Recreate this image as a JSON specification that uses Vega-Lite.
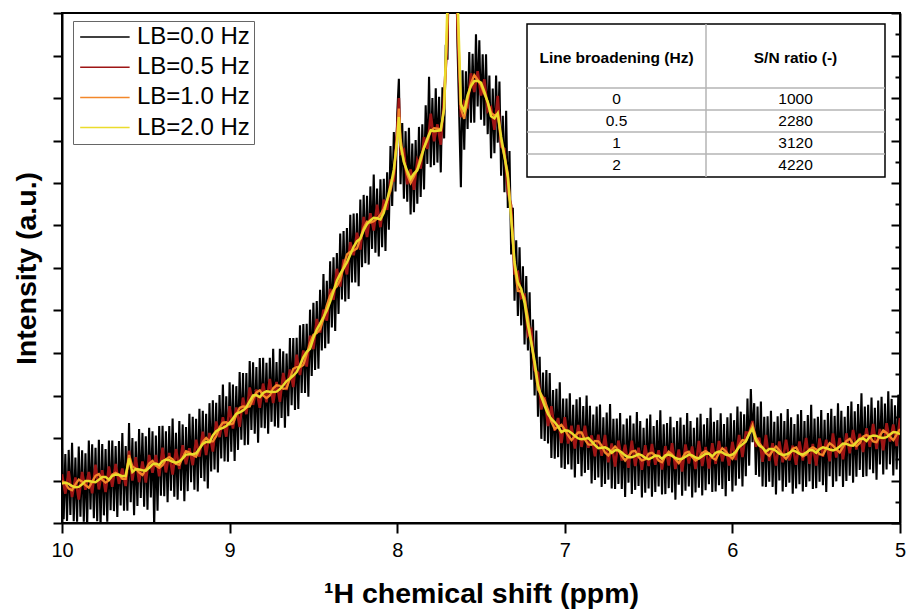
{
"$schema": "https://vega.github.io/schema/vega-lite/v6.json",
"width": 838, "height": 510,
"autosize": {"type": "none"},
"padding": {"left": 62, "top": 13, "right": 7, "bottom": 86},
"config": {"font": "Liberation Sans", "view": {"stroke": "black", "strokeWidth": 2},
  "axis": {"titleColor": "black", "labelColor": "black", "tickColor": "black", "domainColor": "black", "grid": false}},
"datasets": {
"blk": [
{"x":10,"k":1.76},{"x":9.99,"k":0.09},{"x":9.98,"k":1.62},{"x":9.97,"k":0.05},{"x":9.96,"k":1.72},{"x":9.95,"k":0.19},{"x":9.94,"k":1.89},{"x":9.93,"k":0.04},{"x":9.92,"k":1.54},{"x":9.91,"k":0.03},
{"x":9.9,"k":1.8},{"x":9.89,"k":0.15},{"x":9.88,"k":1.71},{"x":9.87,"k":0.03},{"x":9.86,"k":1.64},{"x":9.85,"k":-0.1},{"x":9.84,"k":1.94},{"x":9.83,"k":0.32},{"x":9.82,"k":1.85},{"x":9.81,"k":0.11},
{"x":9.8,"k":1.77},{"x":9.79,"k":0.04},{"x":9.78,"k":1.96},{"x":9.77,"k":-0.1},{"x":9.76,"k":1.86},{"x":9.75,"k":0.18},{"x":9.74,"k":1.74},{"x":9.73,"k":0.03},{"x":9.72,"k":1.94},{"x":9.71,"k":0.3},
{"x":9.7,"k":1.94},{"x":9.69,"k":0.28},{"x":9.68,"k":1.81},{"x":9.67,"k":0.14},{"x":9.66,"k":1.93},{"x":9.65,"k":0.41},{"x":9.64,"k":2.12},{"x":9.63,"k":0.29},{"x":9.62,"k":1.81},{"x":9.61,"k":0.29},
{"x":9.6,"k":2.35},{"x":9.59,"k":0.49},{"x":9.58,"k":2.0},{"x":9.57,"k":0.18},{"x":9.56,"k":1.92},{"x":9.55,"k":0.4},{"x":9.54,"k":2.21},{"x":9.53,"k":0.59},{"x":9.52,"k":2.12},{"x":9.51,"k":0.38},
{"x":9.5,"k":2.04},{"x":9.49,"k":0.31},{"x":9.48,"k":2.24},{"x":9.47,"k":0.6},{"x":9.46,"k":2.16},{"x":9.45,"k":-0.1},{"x":9.44,"k":2.06},{"x":9.43,"k":0.29},{"x":9.42,"k":2.28},{"x":9.41,"k":0.64},
{"x":9.4,"k":2.29},{"x":9.39,"k":0.63},{"x":9.38,"k":2.16},{"x":9.37,"k":0.49},{"x":9.36,"k":2.28},{"x":9.35,"k":0.76},{"x":9.34,"k":2.46},{"x":9.33,"k":0.62},{"x":9.32,"k":2.12},{"x":9.31,"k":0.55},
{"x":9.3,"k":2.4},{"x":9.29,"k":0.76},{"x":9.28,"k":2.32},{"x":9.27,"k":0.51},{"x":9.26,"k":2.26},{"x":9.25,"k":0.75},{"x":9.24,"k":2.57},{"x":9.23,"k":0.96},{"x":9.22,"k":2.5},{"x":9.21,"k":0.78},
{"x":9.2,"k":2.45},{"x":9.19,"k":0.74},{"x":9.18,"k":2.69},{"x":9.17,"k":1.06},{"x":9.16,"k":2.64},{"x":9.15,"k":0.98},{"x":9.14,"k":2.57},{"x":9.13,"k":0.81},{"x":9.12,"k":2.82},{"x":9.11,"k":1.21},
{"x":9.1,"k":2.89},{"x":9.09,"k":1.26},{"x":9.08,"k":2.83},{"x":9.07,"k":1.19},{"x":9.06,"k":3.01},{"x":9.05,"k":1.52},{"x":9.04,"k":3.26},{"x":9.03,"k":1.45},{"x":9.02,"k":2.98},{"x":9.01,"k":1.44},
{"x":9.0,"k":3.31},{"x":8.99,"k":1.68},{"x":8.98,"k":3.26},{"x":8.97,"k":1.46},{"x":8.96,"k":3.22},{"x":8.95,"k":1.72},{"x":8.94,"k":3.55},{"x":8.93,"k":1.96},{"x":8.92,"k":3.53},{"x":8.91,"k":1.83},
{"x":8.9,"k":3.53},{"x":8.89,"k":1.84},{"x":8.88,"k":3.81},{"x":8.87,"k":2.19},{"x":8.86,"k":3.78},{"x":8.85,"k":2.1},{"x":8.84,"k":3.67},{"x":8.83,"k":1.89},{"x":8.82,"k":3.88},{"x":8.81,"k":2.24},
{"x":8.8,"k":3.89},{"x":8.79,"k":2.23},{"x":8.78,"k":3.77},{"x":8.77,"k":2.1},{"x":8.76,"k":3.89},{"x":8.75,"k":2.38},{"x":8.74,"k":4.1},{"x":8.73,"k":2.27},{"x":8.72,"k":3.79},{"x":8.71,"k":2.24},
{"x":8.7,"k":4.1},{"x":8.69,"k":2.47},{"x":8.68,"k":4.04},{"x":8.67,"k":2.24},{"x":8.66,"k":3.99},{"x":8.65,"k":2.51},{"x":8.64,"k":4.35},{"x":8.63,"k":2.77},{"x":8.62,"k":4.35},{"x":8.61,"k":2.66},
{"x":8.6,"k":4.36},{"x":8.59,"k":2.68},{"x":8.58,"k":4.65},{"x":8.57,"k":3.06},{"x":8.56,"k":4.68},{"x":8.55,"k":3.06},{"x":8.54,"k":4.69},{"x":8.53,"k":2.97},{"x":8.52,"k":5.02},{"x":8.51,"k":3.46},
{"x":8.5,"k":5.18},{"x":8.49,"k":3.6},{"x":8.48,"k":5.22},{"x":8.47,"k":3.63},{"x":8.46,"k":5.49},{"x":8.45,"k":4.06},{"x":8.44,"k":5.86},{"x":8.43,"k":4.11},{"x":8.42,"k":5.7},{"x":8.41,"k":4.22},
{"x":8.4,"k":6.16},{"x":8.39,"k":4.6},{"x":8.38,"k":6.25},{"x":8.37,"k":4.52},{"x":8.36,"k":6.35},{"x":8.35,"k":4.92},{"x":8.34,"k":6.81},{"x":8.33,"k":5.26},{"x":8.32,"k":6.87},{"x":8.31,"k":5.21},
{"x":8.3,"k":6.94},{"x":8.29,"k":5.27},{"x":8.28,"k":7.25},{"x":8.27,"k":5.66},{"x":8.26,"k":7.28},{"x":8.25,"k":5.66},{"x":8.24,"k":7.29},{"x":8.23,"k":5.57},{"x":8.22,"k":7.61},{"x":8.21,"k":6.02},
{"x":8.2,"k":7.72},{"x":8.19,"k":6.11},{"x":8.18,"k":7.7},{"x":8.17,"k":6.08},{"x":8.16,"k":7.92},{"x":8.15,"k":6.45},{"x":8.14,"k":8.2},{"x":8.13,"k":6.36},{"x":8.12,"k":7.87},{"x":8.11,"k":6.27},
{"x":8.1,"k":8.09},{"x":8.09,"k":6.49},{"x":8.08,"k":8.1},{"x":8.07,"k":6.4},{"x":8.06,"k":8.25},{"x":8.05,"k":6.9},{"x":8.04,"k":8.87},{"x":8.03,"k":7.46},{"x":8.02,"k":9.2},{"x":8.01,"k":7.8},
{"x":8.0,"k":9.6},{"x":7.99,"k":10.45},{"x":7.98,"k":7.97},{"x":7.97,"k":9.41},{"x":7.96,"k":7.63},{"x":7.95,"k":9.22},{"x":7.94,"k":7.56},{"x":7.93,"k":9.3},{"x":7.92,"k":7.26},{"x":7.91,"k":8.93},
{"x":7.9,"k":7.31},{"x":7.89,"k":9.01},{"x":7.88,"k":7.51},{"x":7.87,"k":9.32},{"x":7.86,"k":7.67},{"x":7.85,"k":9.38},{"x":7.84,"k":7.85},{"x":7.83,"k":9.83},{"x":7.82,"k":8.45},{"x":7.81,"k":10.5},
{"x":7.8,"k":8.37},{"x":7.79,"k":10.0},{"x":7.78,"k":8.42},{"x":7.77,"k":10.23},{"x":7.76,"k":8.48},{"x":7.75,"k":10.03},{"x":7.74,"k":8.25},{"x":7.73,"k":10.25},{"x":7.72,"k":9.05},{"x":7.71,"k":11.25},
{"x":7.7,"k":10.9},{"x":7.69,"k":14},{"x":7.68,"k":24},{"x":7.67,"k":30},{"x":7.66,"k":23},{"x":7.65,"k":13.5},{"x":7.64,"k":11.2},{"x":7.63,"k":9.6},{"x":7.62,"k":7.9},{"x":7.61,"k":10.65},
{"x":7.6,"k":8.78},{"x":7.59,"k":10.63},{"x":7.58,"k":9.27},{"x":7.57,"k":11.08},{"x":7.56,"k":9.42},{"x":7.55,"k":11.04},{"x":7.54,"k":9.42},{"x":7.53,"k":11.5},{"x":7.52,"k":9.8},{"x":7.51,"k":11.36},
{"x":7.5,"k":9.49},{"x":7.49,"k":11.03},{"x":7.48,"k":9.35},{"x":7.47,"k":11.03},{"x":7.46,"k":9.15},{"x":7.45,"k":10.53},{"x":7.44,"k":8.58},{"x":7.43,"k":10.22},{"x":7.42,"k":8.7},{"x":7.41,"k":10.53},
{"x":7.4,"k":8.95},{"x":7.39,"k":10.39},{"x":7.38,"k":8.17},{"x":7.37,"k":9.58},{"x":7.36,"k":7.78},{"x":7.35,"k":9.7},{"x":7.34,"k":7.41},{"x":7.33,"k":8.75},{"x":7.32,"k":6.32},{"x":7.31,"k":7.42},
{"x":7.3,"k":5.23},{"x":7.29,"k":6.65},{"x":7.28,"k":4.87},{"x":7.27,"k":6.49},{"x":7.26,"k":4.65},{"x":7.25,"k":6.04},{"x":7.24,"k":4.2},{"x":7.23,"k":5.81},{"x":7.22,"k":4.06},{"x":7.21,"k":5.43},
{"x":7.2,"k":3.37},{"x":7.19,"k":4.79},{"x":7.18,"k":3.0},{"x":7.17,"k":4.53},{"x":7.16,"k":2.5},{"x":7.15,"k":3.91},{"x":7.14,"k":1.98},{"x":7.13,"k":3.54},{"x":7.12,"k":1.93},{"x":7.11,"k":3.6},
{"x":7.1,"k":1.87},{"x":7.09,"k":3.53},{"x":7.08,"k":1.53},{"x":7.07,"k":3.13},{"x":7.06,"k":1.51},{"x":7.05,"k":3.16},{"x":7.04,"k":1.55},{"x":7.03,"k":3.31},{"x":7.02,"k":1.3},{"x":7.01,"k":2.93},
{"x":7.0,"k":1.27},{"x":6.99,"k":2.93},{"x":6.98,"k":1.38},{"x":6.97,"k":3.05},{"x":6.96,"k":1.26},{"x":6.95,"k":2.78},{"x":6.94,"k":1.07},{"x":6.93,"k":2.91},{"x":6.92,"k":1.39},{"x":6.91,"k":2.96},
{"x":6.9,"k":1.1},{"x":6.89,"k":2.75},{"x":6.88,"k":1.18},{"x":6.87,"k":3.0},{"x":6.86,"k":1.25},{"x":6.85,"k":2.76},{"x":6.84,"k":0.93},{"x":6.83,"k":2.55},{"x":6.82,"k":1.01},{"x":6.81,"k":2.74},
{"x":6.8,"k":1.07},{"x":6.79,"k":2.79},{"x":6.78,"k":0.85},{"x":6.77,"k":2.49},{"x":6.76,"k":0.92},{"x":6.75,"k":2.6},{"x":6.74,"k":1.02},{"x":6.73,"k":2.8},{"x":6.72,"k":0.81},{"x":6.71,"k":2.45},
{"x":6.7,"k":0.8},{"x":6.69,"k":2.46},{"x":6.68,"k":0.92},{"x":6.67,"k":2.59},{"x":6.66,"k":0.8},{"x":6.65,"k":2.32},{"x":6.64,"k":0.61},{"x":6.63,"k":2.46},{"x":6.62,"k":0.95},{"x":6.61,"k":2.53},
{"x":6.6,"k":0.68},{"x":6.59,"k":2.34},{"x":6.58,"k":0.78},{"x":6.57,"k":2.61},{"x":6.56,"k":0.87},{"x":6.55,"k":2.4},{"x":6.54,"k":0.6},{"x":6.53,"k":2.24},{"x":6.52,"k":0.71},{"x":6.51,"k":2.46},
{"x":6.5,"k":0.81},{"x":6.49,"k":2.55},{"x":6.48,"k":0.62},{"x":6.47,"k":2.28},{"x":6.46,"k":0.73},{"x":6.45,"k":2.42},{"x":6.44,"k":0.86},{"x":6.43,"k":2.65},{"x":6.42,"k":0.67},{"x":6.41,"k":2.32},
{"x":6.4,"k":0.68},{"x":6.39,"k":2.35},{"x":6.38,"k":0.82},{"x":6.37,"k":2.5},{"x":6.36,"k":0.72},{"x":6.35,"k":2.25},{"x":6.34,"k":0.55},{"x":6.33,"k":2.4},{"x":6.32,"k":0.9},{"x":6.31,"k":2.48},
{"x":6.3,"k":0.64},{"x":6.29,"k":2.31},{"x":6.28,"k":0.76},{"x":6.27,"k":2.59},{"x":6.26,"k":0.86},{"x":6.25,"k":2.4},{"x":6.24,"k":0.6},{"x":6.23,"k":2.24},{"x":6.22,"k":0.72},{"x":6.21,"k":2.48},
{"x":6.2,"k":0.83},{"x":6.19,"k":2.57},{"x":6.18,"k":0.65},{"x":6.17,"k":2.32},{"x":6.16,"k":0.77},{"x":6.15,"k":2.47},{"x":6.14,"k":0.91},{"x":6.13,"k":2.71},{"x":6.12,"k":0.73},{"x":6.11,"k":2.38},
{"x":6.1,"k":0.74},{"x":6.09,"k":2.42},{"x":6.08,"k":0.89},{"x":6.07,"k":2.58},{"x":6.06,"k":0.8},{"x":6.05,"k":2.33},{"x":6.04,"k":0.63},{"x":6.03,"k":2.49},{"x":6.02,"k":0.99},{"x":6.01,"k":2.58},
{"x":6.0,"k":0.74},{"x":5.99,"k":2.42},{"x":5.98,"k":0.88},{"x":5.97,"k":2.74},{"x":5.96,"k":1.04},{"x":5.95,"k":2.62},{"x":5.94,"k":0.86},{"x":5.93,"k":2.56},{"x":5.92,"k":1.1},{"x":5.91,"k":2.93},
{"x":5.9,"k":1.35},{"x":5.89,"k":3.15},{"x":5.88,"k":1.9},{"x":5.87,"k":2.82},{"x":5.86,"k":1.13},{"x":5.85,"k":2.74},{"x":5.84,"k":1.09},{"x":5.83,"k":2.86},{"x":5.82,"k":0.86},{"x":5.81,"k":2.5},
{"x":5.8,"k":0.85},{"x":5.79,"k":2.51},{"x":5.78,"k":0.97},{"x":5.77,"k":2.64},{"x":5.76,"k":0.85},{"x":5.75,"k":2.38},{"x":5.74,"k":0.67},{"x":5.73,"k":2.51},{"x":5.72,"k":1.0},{"x":5.71,"k":2.58},
{"x":5.7,"k":0.74},{"x":5.69,"k":2.4},{"x":5.68,"k":0.85},{"x":5.67,"k":2.68},{"x":5.66,"k":0.95},{"x":5.65,"k":2.49},{"x":5.64,"k":0.69},{"x":5.63,"k":2.33},{"x":5.62,"k":0.81},{"x":5.61,"k":2.56},
{"x":5.6,"k":0.91},{"x":5.59,"k":2.66},{"x":5.58,"k":0.74},{"x":5.57,"k":2.4},{"x":5.56,"k":0.85},{"x":5.55,"k":2.54},{"x":5.54,"k":0.98},{"x":5.53,"k":2.78},{"x":5.52,"k":0.8},{"x":5.51,"k":2.46},
{"x":5.5,"k":0.82},{"x":5.49,"k":2.5},{"x":5.48,"k":0.97},{"x":5.47,"k":2.66},{"x":5.46,"k":0.89},{"x":5.45,"k":2.43},{"x":5.44,"k":0.73},{"x":5.43,"k":2.59},{"x":5.42,"k":1.1},{"x":5.41,"k":2.69},
{"x":5.4,"k":0.85},{"x":5.39,"k":2.52},{"x":5.38,"k":0.98},{"x":5.37,"k":2.82},{"x":5.36,"k":1.1},{"x":5.35,"k":2.64},{"x":5.34,"k":0.85},{"x":5.33,"k":2.5},{"x":5.32,"k":0.99},{"x":5.31,"k":2.75},
{"x":5.3,"k":1.11},{"x":5.29,"k":2.86},{"x":5.28,"k":0.95},{"x":5.27,"k":2.63},{"x":5.26,"k":1.09},{"x":5.25,"k":2.8},{"x":5.24,"k":1.25},{"x":5.23,"k":3.05},{"x":5.22,"k":1.08},{"x":5.21,"k":2.74},
{"x":5.2,"k":1.1},{"x":5.19,"k":2.78},{"x":5.18,"k":1.26},{"x":5.17,"k":2.95},{"x":5.16,"k":1.17},{"x":5.15,"k":2.71},{"x":5.14,"k":1.02},{"x":5.13,"k":2.88},{"x":5.12,"k":1.38},{"x":5.11,"k":2.97},
{"x":5.1,"k":1.14},{"x":5.09,"k":2.81},{"x":5.08,"k":1.26},{"x":5.07,"k":3.1},{"x":5.06,"k":1.38},{"x":5.05,"k":2.92},{"x":5.04,"k":1.12},{"x":5.03,"k":2.77},{"x":5.02,"k":1.26},{"x":5.01,"k":3.02},
{"x":5.0,"k":1.37}
],
"spec": [
{"x":10,"r":1.15,"o":0.99,"w":0.93},{"x":9.98,"r":0.69,"o":0.93,"w":0.95},{"x":9.96,"r":1.22,"o":0.81,"w":0.92},{"x":9.94,"r":0.61,"o":0.77,"w":0.87},{"x":9.92,"r":1.07,"o":0.91,"w":0.84},
{"x":9.9,"r":0.55,"o":1.02,"w":0.85},{"x":9.88,"r":1.2,"o":0.97,"w":0.91},{"x":9.86,"r":0.78,"o":0.89,"w":0.99},{"x":9.84,"r":1.2,"o":0.83,"w":0.99},{"x":9.82,"r":0.7,"o":0.97,"w":0.97},
{"x":9.8,"r":1.37,"o":1.11,"w":0.96},{"x":9.78,"r":0.79,"o":1.15,"w":1.02},{"x":9.76,"r":1.24,"o":1.02,"w":1.08},{"x":9.74,"r":0.73,"o":0.95,"w":1.08},{"x":9.72,"r":1.33,"o":1.0,"w":1.02},
{"x":9.7,"r":0.85,"o":1.14,"w":1.11},{"x":9.68,"r":1.39,"o":1.18,"w":1.14},{"x":9.66,"r":0.92,"o":1.14,"w":1.13},{"x":9.64,"r":1.28,"o":1.04,"w":1.1},{"x":9.62,"r":0.87,"o":1.04,"w":1.11},
{"x":9.6,"r":1.7,"o":1.6,"w":1.52},{"x":9.58,"r":1.0,"o":1.33,"w":1.2},{"x":9.56,"r":1.55,"o":1.28,"w":1.27},{"x":9.54,"r":0.96,"o":1.19,"w":1.26},{"x":9.52,"r":1.45,"o":1.13,"w":1.24},
{"x":9.5,"r":0.95,"o":1.26,"w":1.23},{"x":9.48,"r":1.6,"o":1.4,"w":1.3},{"x":9.46,"r":1.18,"o":1.46,"w":1.38},{"x":9.44,"r":1.6,"o":1.35,"w":1.4},{"x":9.42,"r":1.1,"o":1.3,"w":1.36},
{"x":9.4,"r":1.77,"o":1.36,"w":1.46},{"x":9.38,"r":1.19,"o":1.5,"w":1.49},{"x":9.36,"r":1.65,"o":1.55,"w":1.48},{"x":9.34,"r":1.14,"o":1.5,"w":1.44},{"x":9.32,"r":1.74,"o":1.39,"w":1.42},
{"x":9.3,"r":1.27,"o":1.37,"w":1.45},{"x":9.28,"r":1.83,"o":1.54,"w":1.52},{"x":9.26,"r":1.38,"o":1.69,"w":1.61},{"x":9.24,"r":1.76,"o":1.66,"w":1.62},{"x":9.22,"r":1.36,"o":1.6,"w":1.62},
{"x":9.2,"r":1.96,"o":1.56,"w":1.64},{"x":9.18,"r":1.56,"o":1.73,"w":1.75},{"x":9.16,"r":2.15,"o":1.91,"w":1.86},{"x":9.14,"r":1.6,"o":2.0,"w":1.91},{"x":9.12,"r":2.12,"o":1.92,"w":1.9},
{"x":9.1,"r":1.68,"o":1.92,"w":2.06},{"x":9.08,"r":2.39,"o":2.04,"w":2.16},{"x":9.06,"r":2.02,"o":2.25,"w":2.21},{"x":9.04,"r":2.49,"o":2.36,"w":2.24},{"x":9.02,"r":2.03,"o":2.37,"w":2.28},
{"x":9.0,"r":2.75,"o":2.32,"w":2.36},{"x":8.98,"r":2.22,"o":2.34,"w":2.46},{"x":8.96,"r":2.72,"o":2.54,"w":2.57},{"x":8.94,"r":2.26,"o":2.71,"w":2.6},{"x":8.92,"r":2.95,"o":2.74,"w":2.65},
{"x":8.9,"r":2.56,"o":2.73,"w":2.72},{"x":8.88,"r":3.19,"o":2.74,"w":2.87},{"x":8.86,"r":2.78,"o":2.93,"w":3.0},{"x":8.84,"r":3.14,"o":3.07,"w":3.01},{"x":8.82,"r":2.71,"o":3.12,"w":2.96},
{"x":8.8,"r":3.28,"o":3.0,"w":3.06},{"x":8.78,"r":2.84,"o":2.94,"w":3.1},{"x":8.76,"r":3.39,"o":3.0,"w":3.09},{"x":8.74,"r":2.82,"o":3.17,"w":3.08},{"x":8.72,"r":3.32,"o":3.24,"w":3.09},
{"x":8.7,"r":2.85,"o":3.23,"w":3.15},{"x":8.68,"r":3.53,"o":3.16,"w":3.24},{"x":8.66,"r":3.13,"o":3.17,"w":3.34},{"x":8.64,"r":3.61,"o":3.4,"w":3.4},{"x":8.62,"r":3.2,"o":3.63,"w":3.47},
{"x":8.6,"r":3.96,"o":3.67,"w":3.55},{"x":8.58,"r":3.48,"o":3.67,"w":3.71},{"x":8.56,"r":4.06,"o":3.72,"w":3.9},{"x":8.54,"r":3.68,"o":3.97,"w":4.03},{"x":8.52,"r":4.41,"o":4.23,"w":4.1},
{"x":8.5,"r":4.09,"o":4.43,"w":4.35},{"x":8.48,"r":4.8,"o":4.47,"w":4.55},{"x":8.46,"r":4.48,"o":4.56,"w":4.69},{"x":8.44,"r":5.02,"o":4.8,"w":4.84},{"x":8.42,"r":4.76,"o":5.12,"w":5.0},
{"x":8.4,"r":5.51,"o":5.35,"w":5.21},{"x":8.38,"r":5.25,"o":5.49,"w":5.45},{"x":8.36,"r":5.98,"o":5.57,"w":5.7},{"x":8.34,"r":5.56,"o":5.72,"w":5.86},{"x":8.32,"r":6.2,"o":6.04,"w":5.99},
{"x":8.3,"r":5.85,"o":6.32,"w":6.13},{"x":8.28,"r":6.61,"o":6.38,"w":6.31},{"x":8.26,"r":6.3,"o":6.41,"w":6.5},{"x":8.24,"r":6.83,"o":6.46,"w":6.63},{"x":8.22,"r":6.43,"o":6.7,"w":6.69},
{"x":8.2,"r":7.2,"o":6.94,"w":6.89},{"x":8.18,"r":6.73,"o":7.09,"w":7.03},{"x":8.16,"r":7.29,"o":7.07,"w":7.12},{"x":8.14,"r":6.88,"o":7.1,"w":7.18},{"x":8.12,"r":7.49,"o":7.16,"w":7.17},
{"x":8.1,"r":6.96,"o":7.25,"w":7.14},{"x":8.08,"r":7.61,"o":7.4,"w":7.3},{"x":8.06,"r":7.37,"o":7.59,"w":7.6},{"x":8.04,"r":8.06,"o":7.82,"w":7.92},{"x":8.02,"r":8.06,"o":8.23,"w":8.32},
{"x":8.0,"r":9.3,"o":9.1,"w":9.0},{"x":7.99,"r":10.0,"o":9.75,"w":9.55},{"x":7.98,"r":8.7,"o":9.03,"w":8.89},{"x":7.96,"r":8.78,"o":8.51,"w":8.49},{"x":7.94,"r":7.97,"o":8.2,"w":8.28},
{"x":7.92,"r":8.32,"o":8.0,"w":8.1},{"x":7.9,"r":7.84,"o":8.15,"w":8.22},{"x":7.88,"r":8.53,"o":8.33,"w":8.3},{"x":7.86,"r":8.34,"o":8.62,"w":8.53},{"x":7.84,"r":9.08,"o":8.83,"w":8.83},
{"x":7.82,"r":8.8,"o":9.0,"w":9.05},{"x":7.8,"r":9.63,"o":9.22,"w":9.24},{"x":7.78,"r":8.98,"o":9.29,"w":9.22},{"x":7.76,"r":9.38,"o":9.28,"w":9.23},{"x":7.74,"r":8.9,"o":9.26,"w":9.24},
{"x":7.72,"r":10.07,"o":9.72,"w":9.77},{"x":7.7,"r":11.4,"o":11.8,"w":12.2},{"x":7.69,"r":14.5,"o":15,"w":15.5},{"x":7.68,"r":23,"o":22,"w":21},{"x":7.67,"r":29,"o":28,"w":27},
{"x":7.66,"r":22.5,"o":22,"w":21.5},{"x":7.65,"r":14,"o":14.5,"w":15},{"x":7.64,"r":11.6,"o":12.0,"w":12.4},{"x":7.62,"r":9.55,"o":9.75,"w":9.85},{"x":7.6,"r":9.91,"o":9.51,"w":9.69},
{"x":7.58,"r":9.8,"o":9.97,"w":10.06},{"x":7.56,"r":10.58,"o":10.34,"w":10.28},{"x":7.54,"r":10.14,"o":10.54,"w":10.4},{"x":7.52,"r":10.63,"o":10.43,"w":10.4},{"x":7.5,"r":10.06,"o":10.3,"w":10.36},
{"x":7.48,"r":10.44,"o":10.09,"w":10.15},{"x":7.46,"r":9.69,"o":9.92,"w":9.9},{"x":7.44,"r":9.78,"o":9.65,"w":9.57},{"x":7.42,"r":9.25,"o":9.59,"w":9.52},{"x":7.4,"r":10.05,"o":9.62,"w":9.64},
{"x":7.38,"r":8.86,"o":8.98,"w":9.09},{"x":7.36,"r":8.8,"o":8.62,"w":8.64},{"x":7.34,"r":7.78,"o":8.23,"w":8.13},{"x":7.32,"r":7.47,"o":7.26,"w":7.16},{"x":7.3,"r":5.88,"o":6.05,"w":6.14},
{"x":7.28,"r":5.91,"o":5.46,"w":5.66},{"x":7.26,"r":5.3,"o":5.45,"w":5.51},{"x":7.24,"r":5.36,"o":5.29,"w":5.18},{"x":7.22,"r":4.42,"o":4.83,"w":4.66},{"x":7.2,"r":4.54,"o":4.26,"w":4.24},
{"x":7.18,"r":3.6,"o":3.7,"w":3.8},{"x":7.16,"r":3.53,"o":3.14,"w":3.25},{"x":7.14,"r":2.67,"o":3.02,"w":2.97},{"x":7.12,"r":2.96,"o":2.88,"w":2.75},{"x":7.1,"r":2.28,"o":2.66,"w":2.56},
{"x":7.08,"r":2.75,"o":2.38,"w":2.45},{"x":7.06,"r":2.17,"o":2.21,"w":2.37},{"x":7.04,"r":2.47,"o":2.26,"w":2.27},{"x":7.02,"r":1.88,"o":2.31,"w":2.14},{"x":7.0,"r":2.49,"o":2.2,"w":2.18},
{"x":6.98,"r":1.87,"o":2.06,"w":2.17},{"x":6.96,"r":2.29,"o":1.95,"w":2.12},{"x":6.94,"r":1.75,"o":2.04,"w":2.05},{"x":6.92,"r":2.31,"o":2.13,"w":1.99},{"x":6.9,"r":1.79,"o":2.13,"w":1.97},
{"x":6.88,"r":2.29,"o":1.96,"w":1.98},{"x":6.86,"r":1.77,"o":1.85,"w":2.0},{"x":6.84,"r":2.06,"o":1.84,"w":1.92},{"x":6.82,"r":1.57,"o":1.93,"w":1.83},{"x":6.8,"r":2.08,"o":1.92,"w":1.76},
{"x":6.78,"r":1.58,"o":1.82,"w":1.77},{"x":6.76,"r":2.07,"o":1.66,"w":1.78},{"x":6.74,"r":1.43,"o":1.59,"w":1.74},{"x":6.72,"r":1.87,"o":1.71,"w":1.65},{"x":6.7,"r":1.33,"o":1.8,"w":1.71},
{"x":6.68,"r":1.94,"o":1.71,"w":1.71},{"x":6.66,"r":1.47,"o":1.58,"w":1.66},{"x":6.64,"r":1.84,"o":1.47,"w":1.59},{"x":6.62,"r":1.3,"o":1.57,"w":1.55},{"x":6.6,"r":1.94,"o":1.68,"w":1.55},
{"x":6.58,"r":1.34,"o":1.7,"w":1.58},{"x":6.56,"r":1.77,"o":1.55,"w":1.62},{"x":6.54,"r":1.25,"o":1.47,"w":1.59},{"x":6.52,"r":1.83,"o":1.5,"w":1.53},{"x":6.5,"r":1.34,"o":1.63,"w":1.5},
{"x":6.48,"r":1.86,"o":1.65,"w":1.54},{"x":6.46,"r":1.37,"o":1.59,"w":1.59},{"x":6.44,"r":1.71,"o":1.47,"w":1.58},{"x":6.42,"r":1.26,"o":1.43,"w":1.51},{"x":6.4,"r":1.81,"o":1.57,"w":1.59},
{"x":6.38,"r":1.35,"o":1.68,"w":1.61},{"x":6.36,"r":1.88,"o":1.61,"w":1.58},{"x":6.34,"r":1.27,"o":1.5,"w":1.53},{"x":6.32,"r":1.73,"o":1.41,"w":1.5},{"x":6.3,"r":1.21,"o":1.52,"w":1.51},
{"x":6.28,"r":1.85,"o":1.65,"w":1.56},{"x":6.26,"r":1.4,"o":1.68,"w":1.61},{"x":6.24,"r":1.8,"o":1.55,"w":1.59},{"x":6.22,"r":1.27,"o":1.47,"w":1.54},{"x":6.2,"r":1.93,"o":1.52,"w":1.52},
{"x":6.18,"r":1.34,"o":1.65,"w":1.57},{"x":6.16,"r":1.79,"o":1.69,"w":1.63},{"x":6.14,"r":1.28,"o":1.64,"w":1.63},{"x":6.12,"r":1.88,"o":1.53,"w":1.57},{"x":6.1,"r":1.39,"o":1.49,"w":1.65},
{"x":6.08,"r":1.93,"o":1.64,"w":1.68},{"x":6.06,"r":1.45,"o":1.76,"w":1.66},{"x":6.04,"r":1.79,"o":1.69,"w":1.61},{"x":6.02,"r":1.35,"o":1.59,"w":1.59},{"x":6.0,"r":1.91,"o":1.51,"w":1.61},
{"x":5.98,"r":1.48,"o":1.65,"w":1.68},{"x":5.96,"r":2.07,"o":1.83,"w":1.79},{"x":5.94,"r":1.55,"o":1.95,"w":1.85},{"x":5.92,"r":2.13,"o":1.93,"w":1.92},{"x":5.9,"r":2.12,"o":2.1,"w":2.1},
{"x":5.88,"r":2.4,"o":2.3,"w":2.22},{"x":5.86,"r":1.79,"o":2.02,"w":1.94},{"x":5.84,"r":2.01,"o":1.88,"w":1.82},{"x":5.82,"r":1.44,"o":1.78,"w":1.77},{"x":5.8,"r":2.07,"o":1.64,"w":1.68},
{"x":5.78,"r":1.46,"o":1.58,"w":1.74},{"x":5.76,"r":1.88,"o":1.7,"w":1.74},{"x":5.74,"r":1.35,"o":1.8,"w":1.7},{"x":5.72,"r":1.92,"o":1.71,"w":1.63},{"x":5.7,"r":1.43,"o":1.6,"w":1.6},
{"x":5.68,"r":1.96,"o":1.51,"w":1.61},{"x":5.66,"r":1.47,"o":1.62,"w":1.65},{"x":5.64,"r":1.82,"o":1.75,"w":1.71},{"x":5.62,"r":1.37,"o":1.78,"w":1.68},{"x":5.6,"r":1.92,"o":1.64,"w":1.63},
{"x":5.58,"r":1.47,"o":1.57,"w":1.61},{"x":5.56,"r":2.0,"o":1.61,"w":1.66},{"x":5.54,"r":1.39,"o":1.74,"w":1.71},{"x":5.52,"r":1.86,"o":1.78,"w":1.71},{"x":5.5,"r":1.35,"o":1.73,"w":1.65},
{"x":5.48,"r":1.99,"o":1.62,"w":1.74},{"x":5.46,"r":1.56,"o":1.6,"w":1.78},{"x":5.44,"r":1.96,"o":1.75,"w":1.76},{"x":5.42,"r":1.45,"o":1.88,"w":1.73},{"x":5.4,"r":2.11,"o":1.82,"w":1.71},
{"x":5.38,"r":1.54,"o":1.73,"w":1.74},{"x":5.36,"r":2.0,"o":1.66,"w":1.8},{"x":5.34,"r":1.5,"o":1.79,"w":1.87},{"x":5.32,"r":2.11,"o":1.93,"w":1.86},{"x":5.3,"r":1.64,"o":1.98,"w":1.83},
{"x":5.28,"r":2.19,"o":1.86,"w":1.82},{"x":5.26,"r":1.73,"o":1.81,"w":1.9},{"x":5.24,"r":2.1,"o":1.88,"w":1.98},{"x":5.22,"r":1.67,"o":2.03,"w":1.99},{"x":5.2,"r":2.23,"o":2.07,"w":1.93},
{"x":5.18,"r":1.79,"o":2.03,"w":2.03},{"x":5.16,"r":2.33,"o":1.92,"w":2.06},{"x":5.14,"r":1.74,"o":1.9,"w":2.05},{"x":5.12,"r":2.21,"o":2.05,"w":2.01},{"x":5.1,"r":1.71,"o":2.18,"w":2.0},
{"x":5.08,"r":2.35,"o":2.12,"w":2.02},{"x":5.06,"r":1.92,"o":2.03,"w":2.08},{"x":5.04,"r":2.32,"o":1.95,"w":2.14},{"x":5.02,"r":1.81,"o":2.08,"w":2.13},{"x":5.0,"r":2.47,"o":2.21,"w":2.09}
],
"tab": [{"lb": "0", "sn": "1000"}, {"lb": "0.5", "sn": "2280"}, {"lb": "1", "sn": "3120"}, {"lb": "2", "sn": "4220"}]
},
"layer": [
{
 "layer": [
  {"data": {"name": "blk"}, "mark": {"type": "line", "strokeWidth": 2.1, "clip": true},
   "encoding": {
    "x": {"field": "x", "type": "quantitative", "scale": {"domain": [5, 10], "reverse": true, "nice": false, "zero": false},
      "axis": {"values": [10,9.75,9.5,9.25,9,8.75,8.5,8.25,8,7.75,7.5,7.25,7,6.75,6.5,6.25,6,5.75,5.5,5.25,5],
        "format": "d", "labelExpr": "datum.value % 1 === 0 ? datum.label : ''",
        "tickSize": {"condition": {"test": "datum.value % 1 === 0", "value": 10}, "value": 5},
        "tickWidth": 2, "domainWidth": 2, "labelFontSize": 20, "labelPadding": 7, "labelFlush": false,
        "title": "¹H chemical shift (ppm)", "titleFontSize": 28.5, "titleFontWeight": "bold", "titlePadding": 19}},
    "y": {"field": "k", "type": "quantitative", "scale": {"domain": [0, 12], "nice": false, "zero": false},
      "axis": {"orient": "left", "values": [0,0.5,1,1.5,2,2.5,3,3.5,4,4.5,5,5.5,6,6.5,7,7.5,8,8.5,9,9.5,10,10.5,11,11.5,12],
        "labels": false,
        "tickSize": {"condition": {"test": "datum.value % 1 === 0", "value": 9}, "value": 5},
        "tickWidth": 2, "domainWidth": 2,
        "title": "Intensity (a.u.)", "titleFontSize": 28.5, "titleFontWeight": "bold", "titlePadding": 11}},
    "color": {"datum": "LB=0.0 Hz",
      "scale": {"domain": ["LB=0.0 Hz", "LB=0.5 Hz", "LB=1.0 Hz", "LB=2.0 Hz"], "range": ["#000000", "#9e1515", "#f3872a", "#ebdc2c"]},
      "legend": {"orient": "none", "legendX": 11, "legendY": 8, "title": null, "symbolType": "M-1,0H4.6", "symbolSize": 312,
        "symbolStrokeWidth": 1.5, "labelFontSize": 24, "labelOffset": 36, "rowPadding": 6.2, "padding": 4,
        "strokeColor": "#666666", "fillColor": "white", "labelColor": "black"}}
   }},
  {"data": {"name": "spec"}, "mark": {"type": "line", "strokeWidth": 2.6, "clip": true},
   "encoding": {"x": {"field": "x", "type": "quantitative"}, "y": {"field": "r", "type": "quantitative"}, "color": {"datum": "LB=0.5 Hz"}}},
  {"data": {"name": "spec"}, "mark": {"type": "line", "strokeWidth": 2.3, "clip": true},
   "encoding": {"x": {"field": "x", "type": "quantitative"}, "y": {"field": "o", "type": "quantitative"}, "color": {"datum": "LB=1.0 Hz"}}},
  {"data": {"name": "spec"}, "mark": {"type": "line", "strokeWidth": 2.5, "clip": true},
   "encoding": {"x": {"field": "x", "type": "quantitative"}, "y": {"field": "w", "type": "quantitative"}, "color": {"datum": "LB=2.0 Hz"}}},
  {"data": {"values": [{}]}, "mark": {"type": "rect", "fill": "white", "stroke": "black", "strokeWidth": 1.5},
   "encoding": {"x": {"datum": 7.2255, "type": "quantitative"}, "x2": {"datum": 5.0895}, "y": {"datum": 11.741, "type": "quantitative"}, "y2": {"datum": 8.141}}},
  {"data": {"values": [{}]}, "mark": {"type": "rule", "stroke": "#b4b4b4", "strokeWidth": 1.5},
   "encoding": {"x": {"datum": 6.1575, "type": "quantitative"}, "y": {"datum": 11.741, "type": "quantitative"}, "y2": {"datum": 8.141}}},
  {"data": {"values": [{}]}, "mark": {"type": "text", "fontSize": 15.5, "fontWeight": "bold", "color": "black"},
   "encoding": {"x": {"datum": 6.6916, "type": "quantitative"}, "y": {"datum": 10.94, "type": "quantitative"}, "text": {"value": "Line broadening (Hz)"}}},
  {"data": {"values": [{}]}, "mark": {"type": "text", "fontSize": 15.5, "fontWeight": "bold", "color": "black"},
   "encoding": {"x": {"datum": 5.6235, "type": "quantitative"}, "y": {"datum": 10.94, "type": "quantitative"}, "text": {"value": "S/N ratio (-)"}}}
 ]
},
{
 "data": {"values": [{}]},
 "mark": {"type": "rule", "opacity": 0},
 "encoding": {"y": {"datum": 0, "type": "quantitative", "scale": {"domain": [0, 12], "nice": false, "zero": false},
   "axis": {"orient": "right", "values": [0,0.5,1,1.5,2,2.5,3,3.5,4,4.5,5,5.5,6,6.5,7,7.5,8,8.5,9,9.5,10,10.5,11,11.5,12],
     "labels": false, "title": null,
     "tickSize": {"condition": {"test": "datum.value % 1 === 0", "value": -9}, "value": -5},
     "tickWidth": 2, "domainWidth": 2}}}
},
{
 "data": {"name": "tab"},
 "encoding": {"y": {"field": "lb", "type": "ordinal", "scale": {"type": "point", "domain": ["0", "0.5", "1", "2"], "range": [86, 152], "padding": 0}, "axis": null}},
 "layer": [
  {"mark": {"type": "rule", "stroke": "#b4b4b4", "strokeWidth": 1.5, "yOffset": -11},
   "encoding": {"x": {"datum": 7.2255, "type": "quantitative"}, "x2": {"datum": 5.0895}}},
  {"mark": {"type": "text", "fontSize": 15.5, "color": "black"},
   "encoding": {"x": {"datum": 6.6916, "type": "quantitative"}, "text": {"field": "lb"}}},
  {"mark": {"type": "text", "fontSize": 15.5, "color": "black"},
   "encoding": {"x": {"datum": 5.6235, "type": "quantitative"}, "text": {"field": "sn"}}}
 ]
}
],
"resolve": {"scale": {"y": "independent"}}
}
